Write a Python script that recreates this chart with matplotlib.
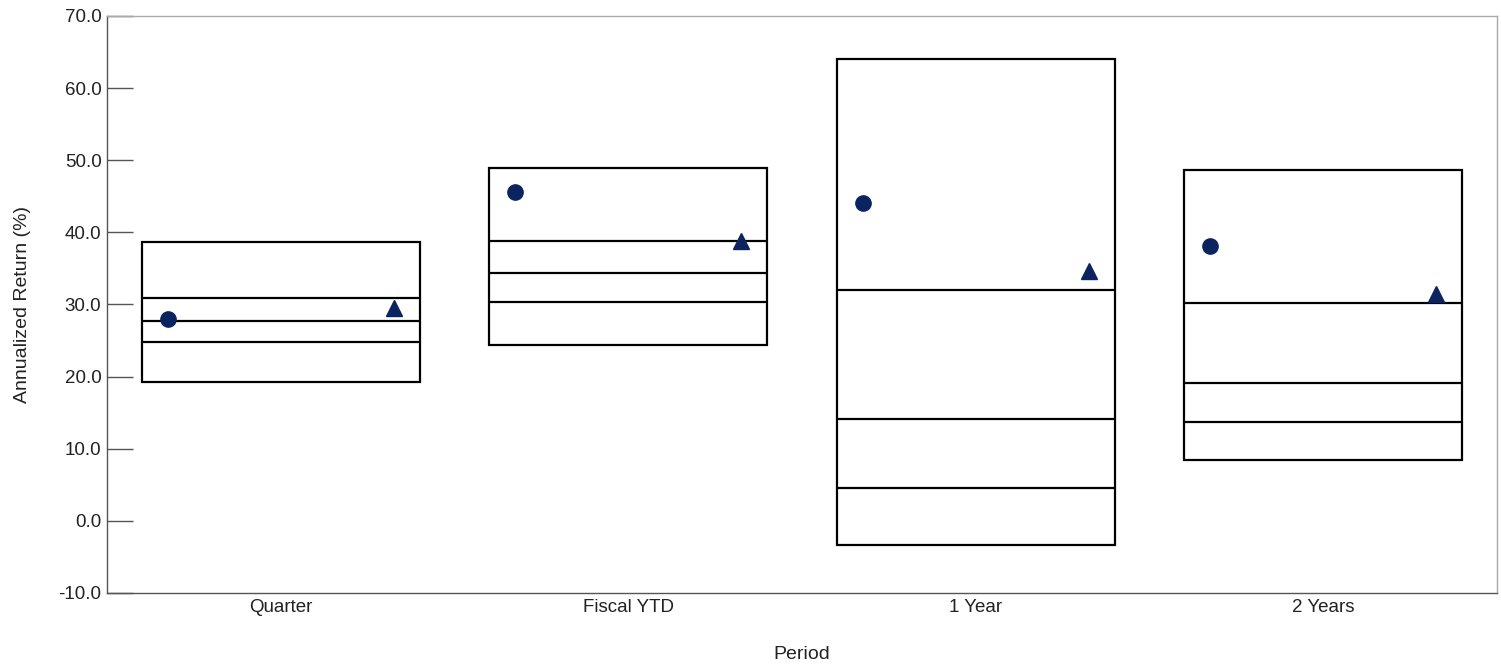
import matplotlib.pyplot as plt
import numpy as np

plt.rcParams['font.family'] = ['Liberation Sans', 'DejaVu Sans']

# Data
periods = ['Quarter', 'Fiscal YTD', '1 Year', '2 Years']
box_top = [38.6, 48.9, 64.0, 48.6]
pct_25 = [30.9, 38.8, 32.0, 30.2]
median = [27.7, 34.4, 14.1, 19.1]
pct_75 = [24.8, 30.3, 4.6, 13.7]
box_bottom = [19.3, 24.4, -3.4, 8.5]
circle_vals = [28.0, 45.6, 44.1, 38.1]
triangle_vals = [29.5, 38.8, 34.6, 31.5]

navy = '#0b2460'

fig = plt.figure(figsize=(15.01, 6.65), dpi=100)
ax = fig.add_axes([0.0713, 0.1083, 0.9260, 0.8677])

x = np.arange(len(periods))
w = 0.8

# boxes
ax.bar(x, np.array(box_top) - np.array(box_bottom), bottom=box_bottom, width=w,
       color='white', edgecolor='black', linewidth=1.6, zorder=2)
for vals in (pct_25, median, pct_75):
    ax.hlines(vals, x - w / 2, x + w / 2, colors='black', linewidth=1.6, zorder=3)

# markers
ax.plot(x - 0.325, circle_vals, 'o', color=navy, markersize=11, zorder=4, linestyle='none')
ax.plot(x + 0.325, triangle_vals, '^', color=navy, markersize=12, zorder=4, linestyle='none')

ax.set_xlim(-0.5, 3.5)
ax.set_ylim(-10, 70)
ax.set_yticks(np.arange(-10, 71, 10))
ax.set_yticklabels(['%.1f' % v for v in np.arange(-10, 71, 10)])
ax.set_xticks(x)
ax.set_xticklabels(periods)

ax.tick_params(axis='y', direction='in', length=19, width=1, color='#555555',
               labelsize=13.5, pad=4, labelcolor='#222222')
ax.tick_params(axis='x', length=0, labelsize=13.5, pad=4, labelcolor='#222222')

ax.spines['left'].set_color('#555555')
ax.spines['bottom'].set_color('#555555')
ax.spines['top'].set_color('#aaaaaa')
ax.spines['right'].set_color('#aaaaaa')
for s in ax.spines.values():
    s.set_linewidth(1)

ax.set_xlabel('Period', fontsize=14, labelpad=22, color='#222222')
ax.set_ylabel('Annualized Return (%)', fontsize=14, labelpad=20, color='#222222')

fig.savefig('out.png', dpi=100)
